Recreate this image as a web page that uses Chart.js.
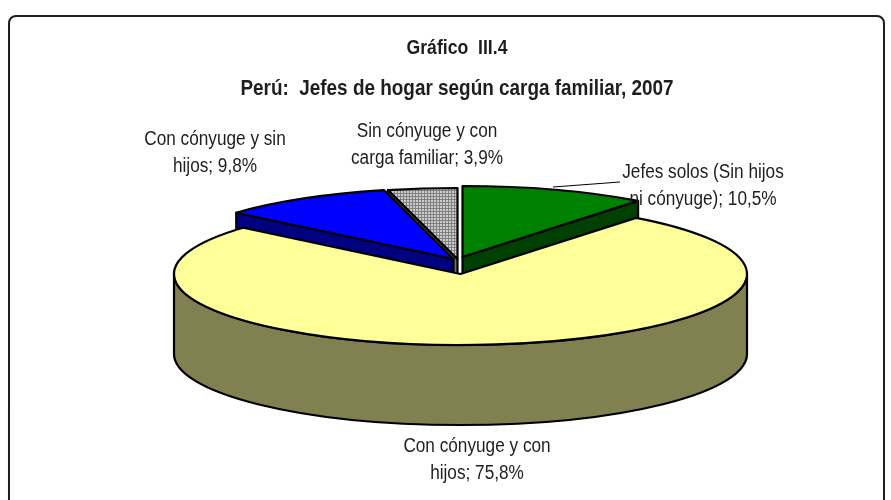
<!DOCTYPE html>
<html>
<head>
<meta charset="utf-8">
<script src="https://cdn.jsdelivr.net/npm/chart.js@4.4.1/dist/chart.umd.min.js"></script>
<style>
  html, body { margin: 0; padding: 0; background: #ffffff; overflow: hidden; }
  canvas { display: block; }
</style>
</head>
<body>
<canvas id="c" width="891" height="500"></canvas>
<script>
// ---- data ----
const categories = [
  "Jefes solos (Sin hijos ni cónyuge)",
  "Con cónyuge y con hijos",
  "Con cónyuge y sin hijos",
  "Sin cónyuge y con carga familiar"
];
const shares = [10.5, 75.8, 9.8, 3.9];
const chartTitle = "Gráfico  III.4";
const chartSubtitle = "Perú:  Jefes de hogar según carga familiar, 2007";

// ---- styles ----
const FONT = "'Liberation Sans', Arial, sans-serif";
const NARROW = 0.86;
const topColors = ['#008000', '#FFFF99', '#0000FF', null];
const sideColors = ['#004000', '#808050', '#000080', '#707070'];

function makeGridPattern() {
  const t = document.createElement('canvas');
  t.width = 3; t.height = 3;
  const g = t.getContext('2d');
  g.fillStyle = '#cccccc'; g.fillRect(0, 0, 3, 3);
  g.fillStyle = '#808080'; g.fillRect(0, 0, 3, 1); g.fillRect(0, 0, 1, 3);
  return document.getElementById('c').getContext('2d').createPattern(t, 'repeat');
}
const grayPattern = makeGridPattern();
topColors[3] = grayPattern;

function fmtLabel(i) {
  const v = shares[i].toFixed(1).replace('.', ',');
  const words = (categories[i] + '; ' + v + '%').split(' ');
  return [words.slice(0, 4).join(' '), words.slice(4).join(' ')];
}

function narrowText(ctx, text, x, y, font) {
  ctx.save();
  ctx.font = font;
  ctx.translate(x, y);
  ctx.scale(NARROW, 1);
  ctx.textAlign = 'center';
  ctx.textBaseline = 'alphabetic';
  ctx.fillText(text, 0, 0);
  ctx.restore();
}

const frame = {
  id: 'frame',
  beforeDraw(chart) {
    const c = chart.ctx;
    c.save();
    c.fillStyle = '#fff';
    c.fillRect(0, 0, chart.width, chart.height);
    c.strokeStyle = '#1e1e1e';
    c.lineWidth = 2;
    c.beginPath();
    c.roundRect(9, 16, 875, 510, 7);
    c.stroke();
    c.restore();
  }
};

const pie3d = {
  id: 'pie3d',
  beforeDatasetsDraw(chart, args, o) {
    const meta = chart.getDatasetMeta(0);
    const ctx = chart.ctx;
    const items = meta.data.map((el, i) => {
      const p = el.getProps(['x', 'y', 'startAngle', 'endAngle', 'outerRadius'], true);
      return Object.assign({ el, i, dx: o.shifts[i][0], dy: o.shifts[i][1] }, p);
    });
    items.sort((a, b) => Math.sin((a.startAngle + a.endAngle) / 2) - Math.sin((b.startAngle + b.endAngle) / 2));

    for (const it of items) {
      const X = o.cx + it.dx, Y = o.cy + it.dy;
      const P = (a) => [X + o.rx * Math.cos(a), Y + o.ry * Math.sin(a)];
      const s = it.startAngle, e = it.endAngle;
      ctx.save();
      ctx.lineWidth = o.lineWidth;
      ctx.strokeStyle = '#000';
      ctx.lineJoin = 'round';
      ctx.fillStyle = sideColors[it.i];
      // radial faces facing the viewer
      const faces = [];
      if (Math.cos(s) < 0) faces.push(s);
      if (Math.cos(e) > 0) faces.push(e);
      for (const a of faces) {
        const p = P(a);
        ctx.beginPath();
        ctx.moveTo(X, Y);
        ctx.lineTo(p[0], p[1]);
        ctx.lineTo(p[0], p[1] + o.depth);
        ctx.lineTo(X, Y + o.depth);
        ctx.closePath();
        ctx.fill(); ctx.stroke();
      }
      // outer rim (front half only)
      for (const [lo, hi] of [[0, Math.PI], [2 * Math.PI, 3 * Math.PI]]) {
        const a1 = Math.max(s, lo), a2 = Math.min(e, hi);
        if (a2 > a1) {
          ctx.beginPath();
          ctx.ellipse(X, Y, o.rx, o.ry, 0, a1, a2, false);
          ctx.ellipse(X, Y + o.depth, o.rx, o.ry, 0, a2, a1, true);
          ctx.closePath();
          ctx.fill(); ctx.stroke();
        }
      }
      // top face: drawn by the Chart.js arc element, projected onto the tilted plane
      const sx = o.rx / it.outerRadius, sy = o.ry / it.outerRadius;
      if (it.i === 3) {
        grayPattern.setTransform(new DOMMatrix([1 / sx, 0, 0, 1 / sy, 0, 0]));
      }
      ctx.save();
      ctx.setTransform(sx, 0, 0, sy, X - it.x * sx, Y - it.y * sy);
      it.el.draw(ctx, chart.chartArea);
      ctx.restore();
      // top outline
      const ps = P(s);
      ctx.beginPath();
      ctx.moveTo(X, Y);
      ctx.lineTo(ps[0], ps[1]);
      ctx.ellipse(X, Y, o.rx, o.ry, 0, s, e, false);
      ctx.closePath();
      ctx.stroke();
      ctx.restore();
    }
    return false;
  },
  afterDraw(chart, args, o) {
    const ctx = chart.ctx;
    ctx.save();
    ctx.fillStyle = '#1e1e1e';
    narrowText(ctx, chartTitle, o.titleX, o.titleY, 'bold 20.5px ' + FONT);
    narrowText(ctx, chartSubtitle, o.titleX, o.subtitleY, 'bold 22px ' + FONT);
    // leader line for the first label
    ctx.strokeStyle = '#000';
    ctx.lineWidth = 1;
    ctx.beginPath();
    ctx.moveTo(o.leader[0], o.leader[1]);
    ctx.lineTo(o.leader[2], o.leader[3]);
    ctx.stroke();
    for (let i = 0; i < shares.length; i++) {
      const lines = fmtLabel(i);
      const [lx, ly] = o.labelPos[i];
      lines.forEach((t, k) => narrowText(ctx, t, lx, ly + k * o.lineGap, o.labelFont));
    }
    ctx.restore();
  }
};

new Chart(document.getElementById('c'), {
  type: 'pie',
  data: {
    labels: categories,
    datasets: [{
      data: shares,
      backgroundColor: topColors,
      borderWidth: 0,
      offset: 0
    }]
  },
  options: {
    responsive: false,
    animation: false,
    events: [],
    layout: { padding: { top: 110 } },
    plugins: {
      legend: { display: false },
      tooltip: { enabled: false },
      title: { display: false },
      pie3d: {
        cx: 460.5, cy: 274, rx: 286.5, ry: 71, depth: 80, lineWidth: 2.2,
        shifts: [[2, -17], [0, 0], [-7, -15], [-3, -15]],
        titleX: 457, titleY: 54, subtitleY: 95,
        labelFont: '20px ' + FONT,
        lineGap: 27,
        labelPos: [[703, 178], [477, 452], [215, 145], [427, 137]],
        leader: [553, 187, 620, 182]
      }
    }
  },
  plugins: [frame, pie3d]
});
</script>
</body>
</html>
